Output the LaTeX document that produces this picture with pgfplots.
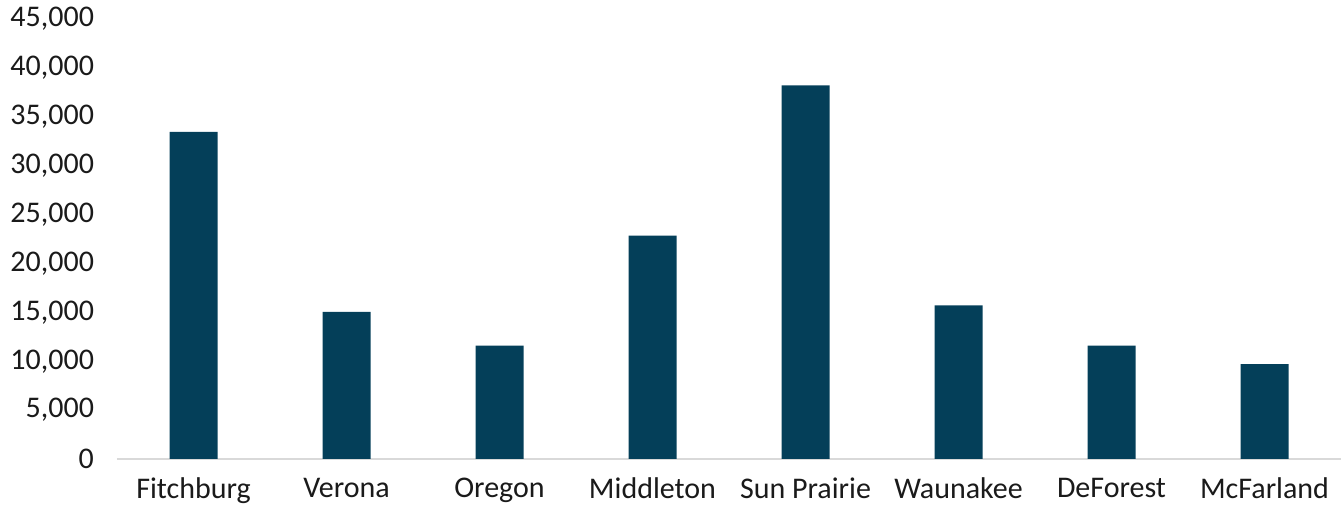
\documentclass[border=0pt]{standalone}
\usepackage{fontspec}
\setmainfont{Carlito}
\usepackage{pgfplots}
\pgfplotsset{compat=1.18}
\usetikzlibrary{calc}

\definecolor{barblue}{HTML}{043F59}
\definecolor{baseline}{HTML}{D9D9D9}
\definecolor{labeltext}{HTML}{1A1A1A}

\pgfplotstableread{
idx value
0 33450
1 15050
2 11600
3 22850
4 38200
5 15700
6 11600
7 9700
}\populationdata

\begin{document}
\begin{tikzpicture}
\begin{axis}[
  scale only axis,
  width=612pt, height=220pt,
  xmin=-0.5, xmax=7.5,
  ymin=0, ymax=45000,
  ytick={0,5000,...,45000},
  xtick=data,
  xticklabels={Fitchburg,Verona,Oregon,Middleton,Sun Prairie,Waunakee,DeForest,McFarland},
  axis lines*=left,
  y axis line style={draw=none},
  x axis line style={draw=baseline, line width=1pt, -},
  tick style={draw=none},
  scaled y ticks=false,
  ticklabel style={font=\fontsize{15}{17}\selectfont, text=labeltext},
  yticklabel style={
    /pgf/number format/fixed,
    /pgf/number format/1000 sep={,},
    /pgf/number format/assume math mode=true,
    xshift=-8pt},
  xticklabel style={yshift=-6pt},
  clip=false,
]
\addplot[ybar, bar width=24pt, fill=barblue, draw=none] table[x=idx, y=value] {\populationdata};
\end{axis}
\pgfresetboundingbox
\path ($(current axis.south west)+(-58.5pt,-23.5pt)$) rectangle ($(current axis.north east)+(1pt,9.5pt)$);
\end{tikzpicture}
\end{document}
